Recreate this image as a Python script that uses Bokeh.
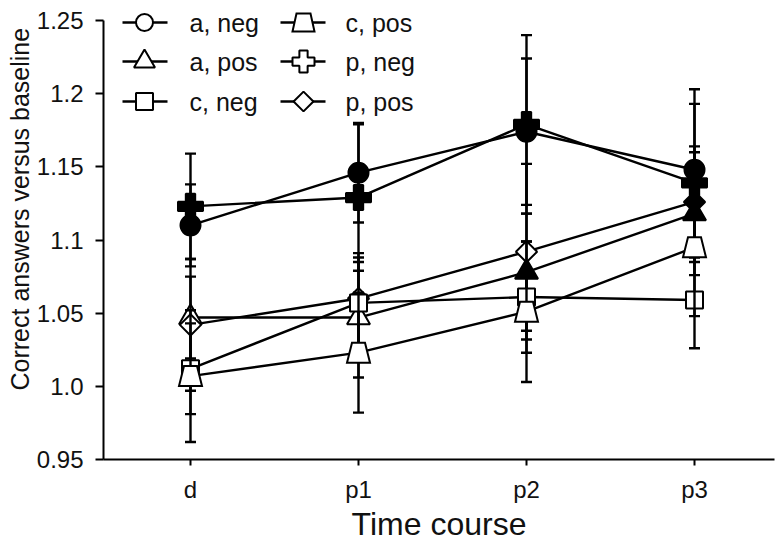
import math
from bokeh.plotting import figure
from bokeh.models import Range1d, FixedTicker, CustomJSTickFormatter, Label, ColumnDataSource, Title
from bokeh.embed import file_html
from bokeh.resources import INLINE

# ---------------- data ----------------
time_points = ["d", "p1", "p2", "p3"]
y_ticks = [0.95, 1.0, 1.05, 1.1, 1.15, 1.2, 1.25]
y_tick_labels = ["0.95", "1.0", "1.05", "1.1", "1.15", "1.2", "1.25"]

a_neg_mean = [1.110, 1.146, 1.174, 1.148]
a_neg_err = [0.028, 0.034, 0.050, 0.055]
a_neg_filled = [True, True, True, True]

a_pos_mean = [1.047, 1.047, 1.078, 1.118]
a_pos_err = [0.028, 0.041, 0.040, 0.042]
a_pos_filled = [False, False, True, True]

c_neg_mean = [1.012, 1.057, 1.061, 1.059]
c_neg_err = [0.031, 0.028, 0.038, 0.033]
c_neg_filled = [False, False, False, False]

c_pos_mean = [1.007, 1.023, 1.051, 1.095]
c_pos_err = [0.045, 0.041, 0.048, 0.047]
c_pos_filled = [False, False, False, False]

p_neg_mean = [1.123, 1.129, 1.179, 1.139]
p_neg_err = [0.036, 0.050, 0.061, 0.054]
p_neg_filled = [True, True, True, True]

p_pos_mean = [1.042, 1.060, 1.092, 1.126]
p_pos_err = [0.045, 0.031, 0.060, 0.038]
p_pos_filled = [False, False, False, True]

# ---------------- layout ----------------
W, H = 784, 545
B_LEFT, B_RIGHT, B_TOP, B_BOTTOM = 103, 10, 0, 86
FRAME_W = W - B_LEFT - B_RIGHT
FRAME_H = H - B_TOP - B_BOTTOM
PX_PER_X = 168.0          # pixels per category step
FIRST_CAT_PX = 87.0       # first category offset from frame left
Y_LO, Y_HI = 0.95, 1.25
Y_HI_PX = 20.0            # 1.25 distance below frame top
PX_PER_Y = (FRAME_H - Y_HI_PX) / (Y_HI - Y_LO)

x_start = -FIRST_CAT_PX / PX_PER_X
x_end = x_start + FRAME_W / PX_PER_X
y_start = Y_LO
y_end = Y_HI + Y_HI_PX / PX_PER_Y

# canvas pixel -> data helpers
def px_x(px):
    return x_start + (px - B_LEFT) / PX_PER_X

def px_y(py):
    return y_end - (py - B_TOP) / PX_PER_Y

FONT = "Liberation Sans"
INK = "black"
TXT = "#111111"
LW = 2.4

p = figure(width=W, height=H, x_range=Range1d(x_start, x_end), y_range=Range1d(y_start, y_end),
           output_backend="svg", toolbar_location=None, title=None,
           min_border_left=B_LEFT, min_border_right=B_RIGHT,
           min_border_top=B_TOP, min_border_bottom=B_BOTTOM)
p.outline_line_color = None
p.xgrid.visible = False
p.ygrid.visible = False
p.background_fill_color = "white"
p.border_fill_color = "white"

xs = list(range(len(time_points)))

# axes
p.xaxis.ticker = FixedTicker(ticks=xs)
p.xaxis.formatter = CustomJSTickFormatter(args=dict(labels=time_points), code="return labels[index];")
p.yaxis.ticker = FixedTicker(ticks=y_ticks)
p.yaxis.formatter = CustomJSTickFormatter(args=dict(labels=y_tick_labels), code="return labels[index];")
p.yaxis.bounds = (Y_LO, Y_HI)
for ax in (p.xaxis[0], p.yaxis[0]):
    ax.axis_line_width = 2
    ax.axis_line_color = INK
    ax.major_tick_line_width = 2
    ax.major_tick_line_color = INK
    ax.major_tick_in = 0
    ax.minor_tick_line_color = None
    ax.major_label_text_font = FONT
    ax.major_label_text_font_size = "24px"
    ax.major_label_text_color = TXT
p.xaxis.major_tick_out = 6
p.xaxis.major_label_standoff = 10
p.yaxis.major_tick_out = 8
p.yaxis.major_label_standoff = 12

# axis titles
p.xaxis.axis_label = "Time course"
p.xaxis.axis_label_text_font = FONT
p.xaxis.axis_label_text_font_size = "32px"
p.xaxis.axis_label_text_font_style = "normal"
p.xaxis.axis_label_text_color = TXT
p.xaxis.axis_label_standoff = 0

p.add_layout(Title(text="Correct answers versus baseline", align="left", offset=69,
                   standoff=0, text_font=FONT, text_font_size="25px",
                   text_font_style="normal", text_color=TXT), "left")

TRAP = (13.0, 23.0, 20.0)  # top width, bottom width, height (px)

def trapezoids(xv, yv, dims):
    wt, wb, h = dims
    xs_, ys_ = [], []
    for x, y in zip(xv, yv):
        ht = wt / 2 / PX_PER_X
        hb = wb / 2 / PX_PER_X
        hh = h / 2 / PX_PER_Y
        xs_.append([x - ht, x + ht, x + hb, x - hb])
        ys_.append([y + hh, y + hh, y - hh, y - hh])
    return xs_, ys_

def draw_series(mean, err, filled, marker, size, angle=0.0):
    lo = [m - e for m, e in zip(mean, err)]
    hi = [m + e for m, e in zip(mean, err)]
    p.segment(x0=xs, y0=lo, x1=xs, y1=hi, line_color=INK, line_width=LW)
    p.scatter(x=xs + xs, y=lo + hi, marker="dash", size=11, line_color=INK, line_width=LW)
    p.line(x=xs, y=mean, line_color=INK, line_width=LW)
    fills = [INK if f else "white" for f in filled]
    if marker == "trapezoid":
        tx, ty = trapezoids(xs, mean, TRAP)
        p.patches(xs=tx, ys=ty, fill_color=fills, line_color=INK, line_width=2, line_join="miter")
    else:
        src = ColumnDataSource(dict(x=xs, y=mean, fill=fills))
        p.scatter(x="x", y="y", source=src, marker=marker, size=size, angle=angle,
                  fill_color="fill", line_color=INK, line_width=2)

draw_series(a_neg_mean, a_neg_err, a_neg_filled, "circle", 20)
draw_series(a_pos_mean, a_pos_err, a_pos_filled, "triangle", 23)
draw_series(p_neg_mean, p_neg_err, p_neg_filled, "plus", 25)
draw_series(p_pos_mean, p_pos_err, p_pos_filled, "square", 15, math.pi / 4)
draw_series(c_neg_mean, c_neg_err, c_neg_filled, "square", 17)
draw_series(c_pos_mean, c_pos_err, c_pos_filled, "trapezoid", 0)

# ---------------- legend (manual) ----------------
legend_rows_px = [22, 61, 101]
legend_cols = [
    dict(line=(122, 167), mark=144, text=189,
         items=[("a, neg", "circle", 17, 0.0), ("a, pos", "triangle", 21, 0.0), ("c, neg", "square", 17, 0.0)]),
    dict(line=(280, 325), mark=303, text=345,
         items=[("c, pos", "trapezoid", 0, 0.0), ("p, neg", "plus", 22, 0.0), ("p, pos", "square", 14, math.pi / 4)]),
]
for col in legend_cols:
    for row_px, (label, marker, size, angle) in zip(legend_rows_px, col["items"]):
        yy = px_y(row_px)
        p.segment(x0=[px_x(col["line"][0])], y0=[yy], x1=[px_x(col["line"][1])], y1=[yy],
                  line_color=INK, line_width=LW)
        if marker == "trapezoid":
            tx, ty = trapezoids([px_x(col["mark"])], [yy], (14.0, 22.0, 18.0))
            p.patches(xs=tx, ys=ty, fill_color="white", line_color=INK, line_width=2, line_join="miter")
        else:
            p.scatter(x=[px_x(col["mark"])], y=[yy], marker=marker, size=size, angle=angle,
                      fill_color="white", line_color=INK, line_width=2)
        p.add_layout(Label(x=px_x(col["text"]), y=yy, text=label, text_align="left",
                           text_baseline="middle", text_font=FONT, text_font_size="25px",
                           text_color=TXT))

open("out.html", "w").write(file_html(p, INLINE))
